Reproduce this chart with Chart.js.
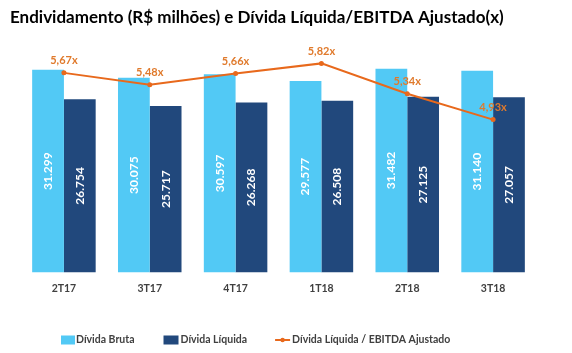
<!DOCTYPE html>
<html>
<head>
<meta charset="utf-8">
<script src="https://cdn.jsdelivr.net/npm/chart.js@4"></script>
<style>
  html, body { margin: 0; padding: 0; background: #fff; }
</style>
</head>
<body>
<canvas id="chart" width="572" height="353"></canvas>
<script>
// Dados do gráfico
const categories = ['2T17', '3T17', '4T17', '1T18', '2T18', '3T18'];
const dividaBruta = [31299, 30075, 30597, 29577, 31482, 31140];
const dividaLiquida = [26754, 25717, 26268, 26508, 27125, 27057];
const alavancagem = [5.67, 5.48, 5.66, 5.82, 5.34, 4.93];

const FONT = 'Lato, "Open Sans", sans-serif';
const COR_BRUTA = '#52c9f5';
const COR_LIQUIDA = '#21487c';
const COR_LINHA = '#e8691c';
const COR_ROTULO = '#e07a2c';

// 31299 -> "31.299"
function fmtMilhar(v) {
    return String(v).replace(/\B(?=(\d{3})+(?!\d))/g, '.');
}

// Rótulos dos valores (barras e linha)
const rotulosPlugin = {
    id: 'rotulos',
    afterDatasetsDraw(chart) {
        const ctx = chart.ctx;
        ctx.save();
        [0, 1].forEach(i => {
            const meta = chart.getDatasetMeta(i);
            const valores = chart.data.datasets[i].data;
            meta.data.forEach((bar, j) => {
                const mid = (bar.y + bar.base) / 2;
                ctx.save();
                ctx.translate(bar.x, mid);
                ctx.rotate(-Math.PI / 2);
                ctx.fillStyle = '#ffffff';
                ctx.font = 'bold 12px ' + FONT;
                ctx.textAlign = 'center';
                ctx.textBaseline = 'middle';
                ctx.fillText(fmtMilhar(valores[j]), 0, 0);
                ctx.restore();
            });
        });
        const metaLinha = chart.getDatasetMeta(2);
        ctx.fillStyle = COR_ROTULO;
        ctx.font = 'bold 11px ' + FONT;
        ctx.textAlign = 'center';
        ctx.textBaseline = 'middle';
        metaLinha.data.forEach((pt, j) => {
            ctx.fillText(alavancagem[j].toFixed(2).replace('.', ',') + 'x', pt.x, pt.y - 12);
        });
        ctx.restore();
    },
    afterDraw(chart) {
        // Legenda desenhada à mão
        const ctx = chart.ctx;
        const y = 340;
        ctx.save();
        ctx.font = 'bold 10.5px ' + FONT;
        ctx.fillStyle = '#404040';
        ctx.textBaseline = 'middle';
        ctx.textAlign = 'left';
        const ds = chart.data.datasets;

        let x = 61;
        ctx.fillStyle = ds[0].backgroundColor;
        ctx.fillRect(x, y - 4.5, 14, 9);
        ctx.fillStyle = '#404040';
        ctx.fillText(ds[0].label, x + 15, y);
        x += 15 + ctx.measureText(ds[0].label).width + 29;

        ctx.fillStyle = ds[1].backgroundColor;
        ctx.fillRect(x, y - 4.5, 15, 9);
        ctx.fillStyle = '#404040';
        ctx.fillText(ds[1].label, x + 17, y);
        x += 17 + ctx.measureText(ds[1].label).width + 28;

        ctx.strokeStyle = COR_LINHA;
        ctx.lineWidth = 2;
        ctx.beginPath();
        ctx.moveTo(x, y);
        ctx.lineTo(x + 15, y);
        ctx.stroke();
        ctx.fillStyle = COR_LINHA;
        ctx.beginPath();
        ctx.arc(x + 7.5, y, 2.2, 0, Math.PI * 2);
        ctx.fill();
        ctx.fillStyle = '#404040';
        ctx.fillText(ds[2].label, x + 17, y);
        ctx.restore();
    }
};

new Chart(document.getElementById('chart'), {
    type: 'bar',
    data: {
        labels: categories,
        datasets: [
            {
                label: 'Dívida Bruta',
                data: dividaBruta,
                backgroundColor: COR_BRUTA,
                yAxisID: 'y',
                order: 2,
                categoryPercentage: 0.74,
                barPercentage: 1.0
            },
            {
                label: 'Dívida Líquida',
                data: dividaLiquida,
                backgroundColor: COR_LIQUIDA,
                yAxisID: 'y',
                order: 2,
                categoryPercentage: 0.74,
                barPercentage: 1.0
            },
            {
                type: 'line',
                label: 'Dívida Líquida / EBITDA Ajustado',
                data: alavancagem,
                borderColor: COR_LINHA,
                backgroundColor: COR_LINHA,
                borderWidth: 2,
                pointRadius: 2.5,
                pointBackgroundColor: COR_LINHA,
                pointBorderWidth: 0,
                tension: 0,
                yAxisID: 'y2',
                order: 1
            }
        ]
    },
    options: {
        responsive: false,
        animation: false,
        devicePixelRatio: 1,
        layout: {
            padding: { left: 10, right: 10, top: 0, bottom: 48 }
        },
        scales: {
            x: {
                grid: { display: false, drawTicks: false },
                border: { display: false },
                ticks: {
                    padding: 10,
                    color: '#404040',
                    font: { family: FONT, size: 10.5, weight: 'bold' }
                }
            },
            y: {
                min: 0,
                max: 36000,
                ticks: { display: false },
                grid: { display: false },
                border: { display: false },
                afterFit: s => { s.width = 11; }
            },
            y2: {
                position: 'right',
                min: 2.51,
                max: 6.2,
                ticks: { display: false },
                grid: { display: false },
                border: { display: false },
                afterFit: s => { s.width = 26; }
            }
        },
        plugins: {
            legend: { display: false },
            tooltip: { enabled: false },
            title: {
                display: true,
                text: 'Endividamento (R$ milhões) e Dívida Líquida/EBITDA Ajustado(x)',
                align: 'start',
                color: '#000000',
                font: { family: FONT, size: 17, weight: 'bold' },
                padding: { top: 7, bottom: 12 }
            }
        }
    },
    plugins: [rotulosPlugin]
});
</script>
</body>
</html>
